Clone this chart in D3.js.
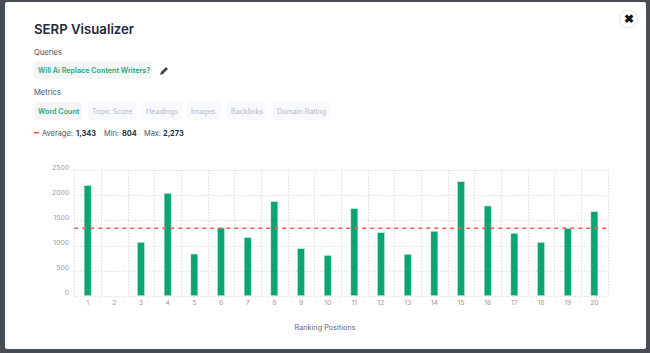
<!DOCTYPE html>
<html><head><meta charset="utf-8">
<script src="https://cdnjs.cloudflare.com/ajax/libs/d3/7.8.5/d3.min.js"></script>
<style>html,body{margin:0;padding:0;background:#484d55;overflow:hidden}svg{display:block}text{font-family:Inter,"Noto Sans",sans-serif}</style>
</head><body><svg id="c" width="650" height="353"></svg>
<script>
const positions = d3.range(1, 21);
const wordCounts = [2193,null,1063,2040,830,1350,1156,1874,937,804,1735,1256,824,1283,2273,1788,1243,1063,1336,1675];
const yTicks = [0,500,1000,1500,2000,2500];
const average = 1343;
const metrics = ["Word Count","Topic Score","Headings","Images","Backlinks","Domain Rating"];
const metricX = [34,88,142,187,227,273];
const metricW = [48,48,40,34,40,57];
const stats = [["Average:","1,343",42,76],["Min:","804",104,122],["Max:","2,273",144,163]];

const svg = d3.select("#c");
svg.append("rect").attr("x",5).attr("y",2).attr("width",641).attr("height",347).attr("rx",2).attr("fill","#fff");

const T=(x,y,s,size,fill,w)=>svg.append("text").attr("x",x).attr("y",y).text(s).attr("font-size",size).attr("fill",fill).attr("font-weight",w||400);
T(34,34,"SERP Visualizer",13.2,"#1f2937",600);
T(34,55,"Queries",7.6,"#4b5563");
svg.append("rect").attr("x",34).attr("y",61).attr("width",118).attr("height",18).attr("rx",3).attr("fill","#f3f5f9");
T(38,72.5,"Will Ai Replace Content Writers?",7.2,"#1fa971",600);
svg.append("path").attr("d","M161 72l5-5 2 2-5 5-3 1z").attr("fill","#444");
T(34,95,"Metrics",7.6,"#4b5563");
metrics.forEach((m,i)=>{
  svg.append("rect").attr("x",metricX[i]).attr("y",102).attr("width",metricW[i]).attr("height",18).attr("rx",3).attr("fill",i?"#f8f9fc":"#f3f5f9");
  T(metricX[i]+4,113.5,m,7.2,i?"#b4b9c4":"#1fa971",i?400:600);
});
svg.append("rect").attr("x",34).attr("y",132).attr("width",5).attr("height",1.5).attr("fill","#ef5350");
stats.forEach(s=>{T(s[2],135.5,s[0],7.4,"#4b5563");T(s[3],135.5,s[1],7.4,"#27324a",700);});

const x=d3.scaleBand().domain(positions).range([74.3,607.7]);
const y=d3.scaleLinear().domain([0,2500]).range([295.7,170.3]);
const g=svg.append("g");
const grid="#cfcfcf";
g.selectAll(".h").data(yTicks).join("line").attr("x1",74.3).attr("x2",607.7).attr("y1",d=>Math.round(y(d))+0.5).attr("y2",d=>Math.round(y(d))+0.5).attr("stroke",grid).attr("stroke-dasharray","1 2");
g.selectAll(".v").data(positions.concat([21])).join("line").attr("x1",d=>Math.round(d<21?x(d):607.7)+0.5).attr("x2",d=>Math.round(d<21?x(d):607.7)+0.5).attr("y1",170.3).attr("y2",295.7).attr("stroke",grid).attr("stroke-dasharray","1 2");
g.selectAll(".b").data(positions.filter((d,i)=>wordCounts[i]!=null)).join("rect")
 .attr("x",d=>x(d)+x.bandwidth()/2-3.5).attr("width",7)
 .attr("y",d=>y(wordCounts[d-1])).attr("height",d=>y(0)-y(wordCounts[d-1]))
 .attr("fill","#0ca572").attr("stroke","#c9ebdd").attr("stroke-width",0.5);
g.append("line").attr("x1",74.3).attr("x2",607.7).attr("y1",y(average)).attr("y2",y(average)).attr("stroke","#ee5a5f").attr("stroke-width",1.5).attr("stroke-dasharray","4 4");
g.selectAll(".yl").data(yTicks).join("text").attr("x",69).attr("y",d=>y(d)).attr("dy",-0.5).attr("text-anchor","end").attr("font-size",6.8).attr("fill","#9a9a9a").text(d=>d);
g.selectAll(".xl").data(positions).join("text").attr("x",d=>x(d)+x.bandwidth()/2).attr("y",305).attr("text-anchor","middle").attr("font-size",6.8).attr("fill","#9a9a9a").text(d=>d);
T(325,330,"Ranking Positions",7.3,"#5f6670").attr("text-anchor","middle");

svg.append("circle").attr("cx",628.5).attr("cy",19).attr("r",9).attr("fill","#fff").attr("stroke","#e6e6e6");
svg.append("text").attr("x",628.5).attr("y",23).attr("text-anchor","middle").attr("font-size",12).attr("font-weight",900).attr("fill","#111").text("✖");
</script></body></html>
